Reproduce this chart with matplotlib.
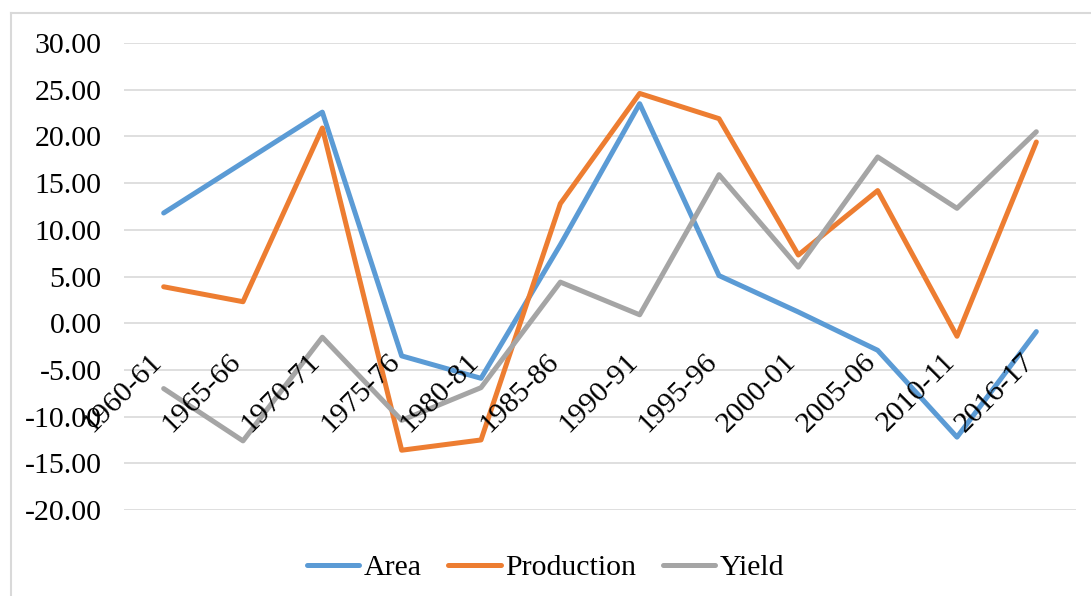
import matplotlib
matplotlib.use("Agg")
import matplotlib.pyplot as plt
import numpy as np

periods = ["1960-61", "1965-66", "1970-71", "1975-76", "1980-81", "1985-86",
           "1990-91", "1995-96", "2000-01", "2005-06", "2010-11", "2016-17"]
area = [11.8, 17.2, 22.6, -3.5, -5.9, 8.4, 23.5, 5.1, 1.2, -2.9, -12.2, -0.9]
production = [3.9, 2.3, 20.9, -13.6, -12.5, 12.8, 24.6, 21.9, 7.3, 14.2, -1.4, 19.4]
yld = [-7.0, -12.6, -1.5, -10.4, -6.9, 4.4, 0.9, 15.9, 6.0, 17.8, 12.3, 20.5]

plt.rcParams['font.family'] = ['Liberation Serif', 'DejaVu Serif']
FS = 21.5

W, H = 1091, 596
fig = plt.figure(figsize=(W / 100, H / 100), dpi=100, facecolor='white')
ax = fig.add_axes([124 / W, 1 - 510 / H, (1076 - 124) / W, (510 - 43) / H])

x = np.arange(len(periods))
kw = dict(lw=3.6, solid_joinstyle='round', solid_capstyle='round')
ax.plot(x, area, color='#5B9BD5', label='Area', **kw)
ax.plot(x, production, color='#ED7D31', label='Production', **kw)
ax.plot(x, yld, color='#A5A5A5', label='Yield', **kw)

ax.set_xlim(-0.5, len(periods) - 0.5)
ax.set_ylim(-20, 30)
ax.set_yticks(np.arange(-20, 31, 5))
ax.set_yticklabels([f"{v:.2f}" for v in np.arange(-20, 31, 5)], fontsize=FS)
ax.tick_params(axis='y', length=0, pad=16)
ax.set_xticks([])
ax.grid(axis='y', color='#D9D9D9', lw=1.2)
ax.set_axisbelow(True)
for s in ax.spines.values():
    s.set_visible(False)

# category labels sit on the zero line
for i, p in enumerate(periods):
    ax.annotate(p, (i, 0), xytext=(-11, -18), textcoords='offset points',
                rotation=45, ha='right', va='top', rotation_mode='anchor',
                fontsize=FS)

leg = fig.legend(loc='center', bbox_to_anchor=(0.5, 1 - 568 / H), ncol=3,
                 frameon=False, fontsize=FS, handlelength=1.75,
                 handletextpad=0.15, columnspacing=0.9)

# chart border (left and top visible)
fig.add_artist(plt.Line2D([11 / W, 11 / W], [0, 1 - 13 / H], color='#D9D9D9', lw=1.5))
fig.add_artist(plt.Line2D([11 / W, 1], [1 - 13 / H, 1 - 13 / H], color='#D9D9D9', lw=1.5))

fig.savefig('out.png', dpi=100)
